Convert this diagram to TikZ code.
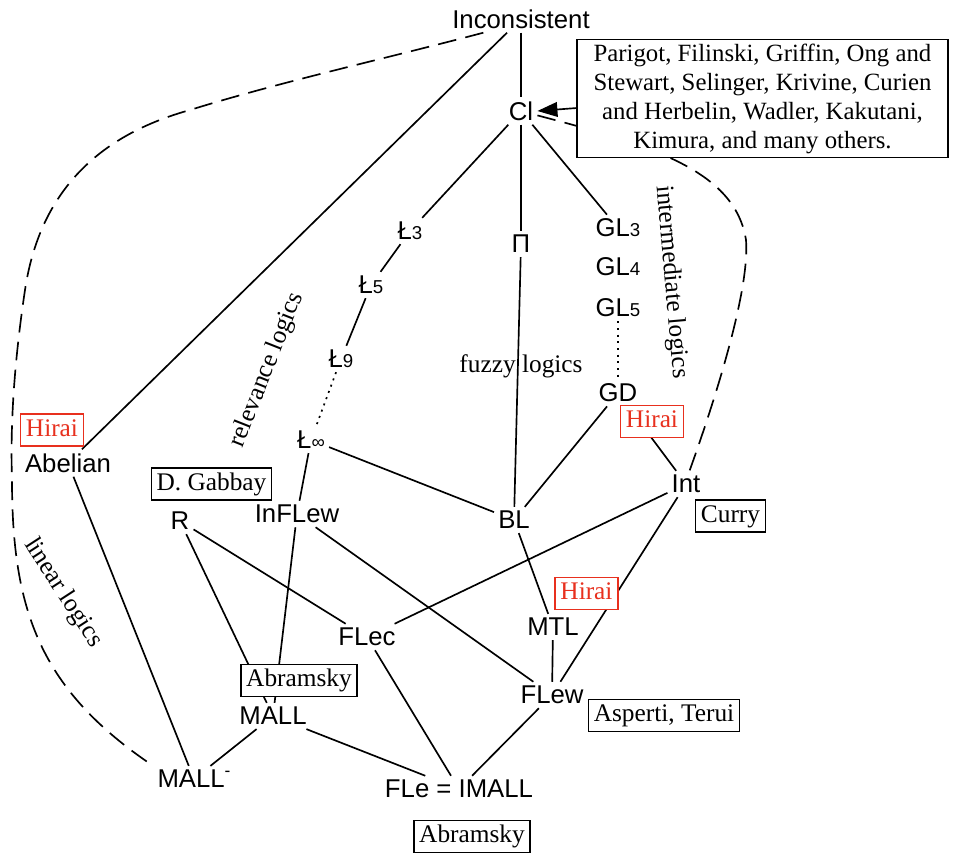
\documentclass[tikz,border=0pt]{standalone}
\usepackage{fontspec}
\setmainfont{Liberation Serif}
\setsansfont{Liberation Sans}
\usetikzlibrary{arrows.meta,backgrounds}
\definecolor{hiraired}{RGB}{232,48,30}
\newcommand{\lsub}[1]{{\fontsize{14}{14}\selectfont #1}}
\tikzset{
  logic/.style={font=\fontsize{19.3}{20}\selectfont\sffamily, inner sep=3pt},
  cite/.style={draw, fill=white, line width=1.1pt, font=\fontsize{19}{20}\selectfont,
    text height=13.5pt, text depth=4pt, inner xsep=4pt, inner ysep=3.2pt},
  redcite/.style={cite, draw=hiraired, text=hiraired},
  area/.style={font=\fontsize{19}{20}\selectfont, inner sep=0pt},
  link/.style={line width=1.25pt},
  dashlink/.style={line width=1.25pt, dash pattern=on 14pt off 7pt},
  dotlink/.style={line width=1.25pt, dash pattern=on 1.5pt off 3.5pt}
}
\begin{document}
\begin{tikzpicture}[x=0.75pt,y=-0.75pt]
\useasboundingbox (0,0) rectangle (953,855);

% logics
\node[logic] (Inc) at (521,19) {Inconsistent};
\node[logic] (Cl) at (521,111) {Cl};
\node[logic] (L3) at (410,231) {Ł\lsub{3}};
\node[logic] (L5) at (371,285) {Ł\lsub{5}};
\node[logic] (L9) at (341,359) {Ł\lsub{9}};
\node[logic] (Linf) at (311,440) {Ł\lsub{∞}};
\node[logic] (Pi) at (521,244) {Π};
\node[logic] (GL3) at (618,228) {GL\lsub{3}};
\node[logic] (GL4) at (618,267) {GL\lsub{4}};
\node[logic] (GL5) at (618,308) {GL\lsub{5}};
\node[logic] (GD) at (618,393) {GD};
\node[logic] (Int) at (686,484) {Int};
\node[logic] (BL) at (514,520) {BL};
\node[logic] (MTL) at (553,627) {MTL};
\node[logic] (FLew) at (552,695) {FLew};
\node[logic] (FLec) at (367,637) {FLec};
\node[logic] (FLe) at (459,789) {FLe = IMALL};
\node[logic] (MALL) at (273,716) {MALL};
\node[logic] (MALLm) at (194,779) {MALL\raisebox{8.5pt}{\fontsize{13}{13}\selectfont -}};
\node[logic] (R) at (180,521) {R};
\node[logic] (InFLew) at (297,514) {InFLew};
\node[logic] (Abelian) at (68,463) {Abelian};

% attributions
\node[cite, align=center, minimum width=278pt, minimum height=88pt,
      font=\fontsize{18.6}{21.75}\selectfont, text height=, text depth=] (refs) at (762.5,98.5)
  {Parigot, Filinski, Griffin, Ong and\\Stewart, Selinger, Krivine, Curien\\and Herbelin, Wadler, Kakutani,\\Kimura, and many others.};
\node[redcite] (hGD) at (652,421.5) {Hirai};
\node[redcite] (hMTL) at (586.5,593.5) {Hirai};
\node[redcite] (hAb) at (52,430) {Hirai};
\node[cite] (curry) at (730.5,516) {Curry};
\node[cite] (asp) at (664,715.5) {Asperti, Terui};
\node[cite] (abrFLe) at (472,836.5) {Abramsky};
\node[cite] (abrMALL) at (299,680.5) {Abramsky};
\node[cite] (gabbay) at (211.5,484) {D. Gabbay};

% family labels
\node[area] at (521,366) {fuzzy logics};
\node[area, rotate=68.5] at (267,370) {relevance logics};
\node[area, rotate=-85] at (671,282) {intermediate logics};
\node[area, rotate=-57] at (63,593) {linear logics};

\coordinate (arrowfoot) at (577,108);

\begin{scope}[on background layer]
  \draw[link] (Inc) -- (Cl);
  \draw[link] (Inc) -- (Abelian);
  \draw[link] (Cl) -- (L3);
  \draw[link] (L3) -- (L5);
  \draw[link] (L5) -- (L9);
  \draw[dotlink] (L9) -- (Linf);
  \draw[link] (Cl) -- (Pi);
  \draw[link] (Pi) -- (BL);
  \draw[link] (Cl) -- (GL3);
  \draw[dotlink] (GL5) -- (GD);
  \draw[link] (Linf) -- (BL);
  \draw[link] (Linf) -- (InFLew);
  \draw[link] (GD) -- (BL);
  \draw[link] (GD) -- (Int);
  \draw[link] (Int) -- (FLec);
  \draw[link] (Int) -- (FLew);
  \draw[link] (BL) -- (MTL);
  \draw[link] (MTL) -- (FLew);
  \draw[link] (InFLew) -- (FLew);
  \draw[link] (InFLew) -- (MALL);
  \draw[link] (R) -- (MALL);
  \draw[link] (R) -- (FLec);
  \draw[link] (FLec) -- (FLe);
  \draw[link] (FLew) -- (FLe);
  \draw[link] (MALL) -- (FLe);
  \draw[link] (MALL) -- (MALLm);
  \draw[link] (Abelian) -- (MALLm);
  \draw[dashlink] (Cl.-15) .. controls (650,145) and (735,170) .. (746,240)
                  .. controls (750,290) and (715,400) .. (Int.75);
  \draw[dashlink] (Inc.-160) .. controls (380,60) and (280,82) .. (190,110)
                  .. controls (100,135) and (40,190) .. (25,290)
                  .. controls (15,357) and (10,420) .. (12,480)
                  .. controls (12,610) and (40,690) .. (MALLm.north west);
\end{scope}
\draw[link, -{Triangle[length=15pt,width=11pt]}] (arrowfoot) -- (Cl.east);
\end{tikzpicture}
\end{document}
